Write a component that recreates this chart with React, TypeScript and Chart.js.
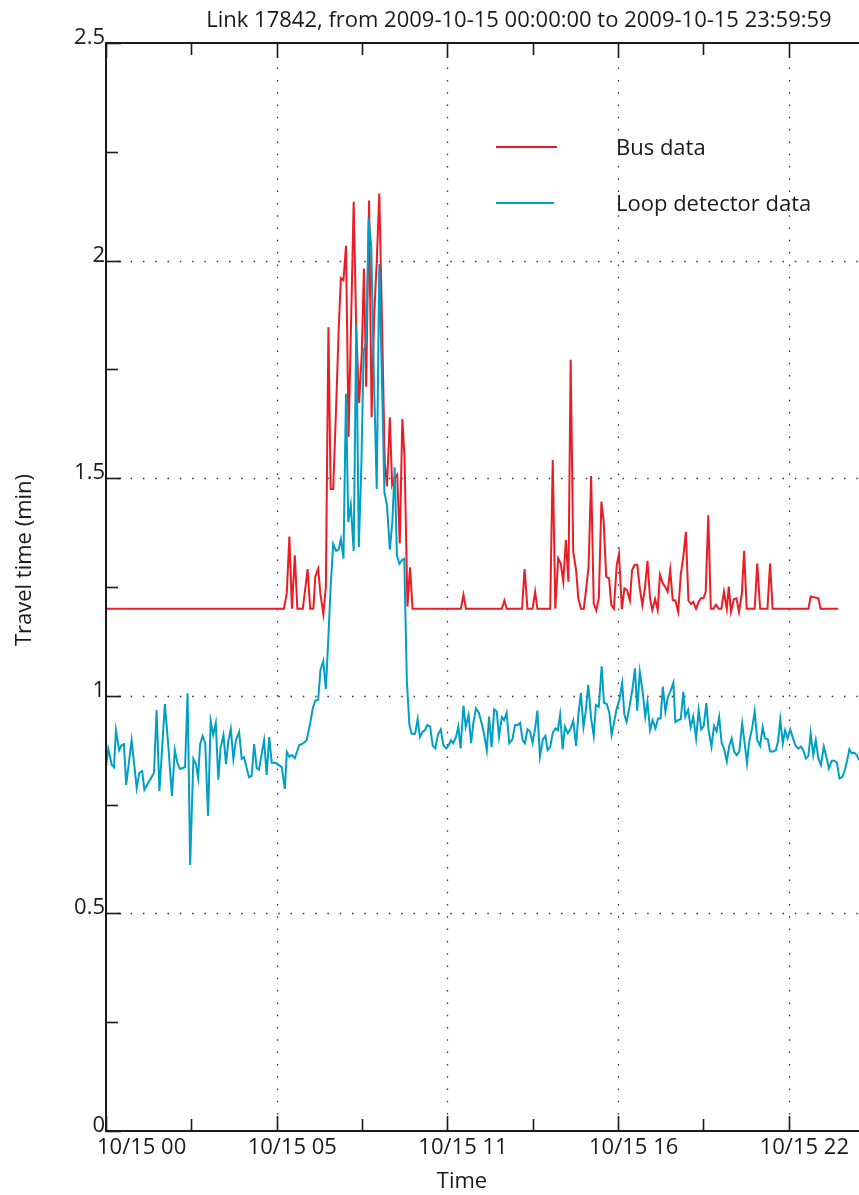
import React, { useEffect, useRef } from "react";
import { Chart, registerables } from "chart.js";

Chart.register(...registerables);

// ---- data ----
const chartTitle = "Link 17842, from 2009-10-15 00:00:00 to 2009-10-15 23:59:59";
const xAxisTitle = "Time";
const yAxisTitle = "Travel time (min)";
const seriesNames = ["Bus data", "Loop detector data"];

// x tick positions (hours since 10/15 00:00) and labels
const xMajorTickHours = [0, 16 / 3, 32 / 3, 16, 64 / 3];
const xMajorTickLabels = ["10/15 00", "10/15 05", "10/15 11", "10/15 16", "10/15 22"];
const xMinorTickHours = [8 / 3, 8, 40 / 3, 56 / 3];
const yTickValues = [0, 0.25, 0.5, 0.75, 1, 1.25, 1.5, 1.75, 2, 2.25, 2.5];
const yTickLabels = ["0", "", "0.5", "", "1", "", "1.5", "", "2", "", "2.5"];

const busHours = [
  0, 5.56, 5.65, 5.73, 5.81, 5.9, 5.98, 6.15, 6.3, 6.38, 6.48, 6.54, 6.63, 6.7, 6.79, 6.87,
  6.95, 7.02, 7.1, 7.19, 7.27, 7.34, 7.42, 7.5, 7.58, 7.74, 7.82, 7.91, 7.99, 8.06, 8.13,
  8.22, 8.3, 8.38, 8.46, 8.54, 8.63, 8.71, 8.78, 8.87, 8.94, 9.02, 9.1, 9.18, 9.26, 9.33,
  9.42, 9.5, 9.58, 11.09, 11.17, 11.25, 12.37, 12.45, 12.52, 13.0, 13.08, 13.17, 13.33,
  13.41, 13.48, 13.88, 13.96, 14.04, 14.13, 14.21, 14.29, 14.37, 14.45, 14.52, 14.6, 14.69,
  14.76, 14.84, 14.93, 15.0, 15.08, 15.16, 15.24, 15.32, 15.4, 15.48, 15.55, 15.63, 15.72,
  15.79, 15.87, 15.96, 16.03, 16.12, 16.2, 16.28, 16.37, 16.44, 16.52, 16.6, 16.68, 16.76,
  16.84, 16.92, 17.0, 17.07, 17.16, 17.24, 17.31, 17.4, 17.47, 17.55, 17.63, 17.71, 17.79,
  17.88, 17.96, 18.04, 18.12, 18.2, 18.28, 18.35, 18.44, 18.52, 18.59, 18.67, 18.74, 18.82,
  18.9, 18.98, 19.06, 19.15, 19.23, 19.31, 19.4, 19.46, 19.53, 19.62, 19.7, 19.78, 19.87,
  19.94, 20.02, 20.27, 20.35, 20.44, 20.67, 20.75, 20.83, 21.95, 22.02, 22.26, 22.33, 22.88,
];
const busMinutes = [
  1.2, 1.2, 1.237, 1.366, 1.2, 1.323, 1.2, 1.2, 1.291, 1.2, 1.2, 1.274, 1.292, 1.234, 1.188, 1.25,
  1.847, 1.475, 1.475, 1.66, 1.84, 1.96, 1.955, 2.034, 1.595, 2.135, 1.84, 1.673, 1.783, 1.982, 1.71,
  2.138, 1.64, 1.874, 1.997, 2.154, 1.84, 1.537, 1.481, 1.64, 1.484, 1.5, 1.508, 1.35, 1.636, 1.545,
  1.205, 1.295, 1.2, 1.2, 1.232, 1.2, 1.2, 1.219, 1.2, 1.2, 1.291, 1.2, 1.2,
  1.239, 1.2, 1.2, 1.542, 1.2, 1.316, 1.304, 1.262, 1.358, 1.262, 1.772, 1.331, 1.289,
  1.224, 1.2, 1.2, 1.243, 1.297, 1.505, 1.212, 1.196, 1.224, 1.446, 1.402, 1.274, 1.27,
  1.209, 1.2, 1.301, 1.326, 1.199, 1.247, 1.243, 1.219, 1.289, 1.301, 1.301, 1.247, 1.209,
  1.247, 1.31, 1.224, 1.197, 1.222, 1.197, 1.278, 1.258, 1.251, 1.239, 1.289, 1.22, 1.219,
  1.193, 1.278, 1.32, 1.377, 1.219, 1.211, 1.216, 1.2, 1.216, 1.224, 1.224, 1.239, 1.415,
  1.2, 1.2, 1.209, 1.2, 1.2, 1.239, 1.2, 1.251, 1.193, 1.222, 1.224, 1.193, 1.235,
  1.333, 1.2, 1.2, 1.304, 1.2, 1.2, 1.304, 1.2, 1.2, 1.228, 1.224, 1.2, 1.2,
];

const loopHours = [
  0, 0.07, 0.18, 0.25, 0.31, 0.41, 0.49, 0.56, 0.63, 0.8, 0.96, 1.04, 1.13, 1.2, 1.5, 1.58,
  1.67, 1.84, 1.95, 2.06, 2.15, 2.23, 2.31, 2.47, 2.55, 2.63, 2.73, 2.81, 2.88, 2.94, 3.02,
  3.1, 3.19, 3.27, 3.35, 3.43, 3.51, 3.58, 3.67, 3.75, 3.82, 3.9, 3.98, 4.06, 4.16, 4.24,
  4.31, 4.47, 4.55, 4.63, 4.71, 4.78, 4.94, 5.02, 5.1, 5.18, 5.3, 5.49, 5.59, 5.65, 5.73,
  5.81, 5.9, 6.04, 6.15, 6.27, 6.38, 6.46, 6.54, 6.63, 6.7, 6.79, 6.87, 6.95, 7.02, 7.1,
  7.19, 7.27, 7.34, 7.42, 7.5, 7.57, 7.65, 7.74, 7.82, 7.9, 7.98, 8.05, 8.13, 8.21, 8.29,
  8.37, 8.46, 8.54, 8.63, 8.7, 8.78, 8.87, 8.95, 9.02, 9.09, 9.17, 9.25, 9.32, 9.4, 9.48,
  9.55, 9.66, 9.74, 9.81, 9.9, 9.97, 10.04, 10.13, 10.21, 10.29, 10.37, 10.46, 10.54, 10.63,
  10.71, 10.78, 10.85, 10.94, 11.01, 11.08, 11.17, 11.24, 11.33, 11.41, 11.48, 11.56, 11.65,
  11.74, 11.82, 11.9, 11.97, 12.05, 12.13, 12.21, 12.28, 12.37, 12.44, 12.52, 12.6, 12.7,
  12.78, 12.87, 12.94, 13.02, 13.09, 13.17, 13.25, 13.33, 13.41, 13.48, 13.56, 13.65, 13.73,
  13.8, 13.88, 13.96, 14.04, 14.12, 14.19, 14.27, 14.34, 14.43, 14.51, 14.6, 14.69, 14.76,
  14.84, 14.92, 14.99, 15.07, 15.16, 15.24, 15.31, 15.4, 15.49, 15.56, 15.65, 15.73, 15.8,
  15.88, 15.96, 16.04, 16.13, 16.2, 16.27, 16.35, 16.45, 16.53, 16.6, 16.68, 16.77, 16.85,
  16.92, 17.0, 17.08, 17.17, 17.25, 17.33, 17.4, 17.48, 17.56, 17.65, 17.73, 17.79, 17.88,
  17.96, 18.04, 18.1, 18.19, 18.27, 18.35, 18.44, 18.52, 18.6, 18.68, 18.76, 18.83, 18.92,
  19.0, 19.08, 19.16, 19.24, 19.31, 19.4, 19.47, 19.55, 19.63, 19.71, 19.79, 19.88, 19.95,
  20.03, 20.1, 20.19, 20.27, 20.35, 20.44, 20.52, 20.59, 20.68, 20.75, 20.85, 20.93, 21.0,
  21.07, 21.15, 21.22, 21.3, 21.38, 21.47, 21.55, 21.63, 21.72, 21.79, 21.87, 21.95, 22.02,
  22.1, 22.18, 22.26, 22.34, 22.43, 22.51, 22.59, 22.68, 22.76, 22.84, 22.92, 23.01, 23.09,
  23.16, 23.23, 23.3, 23.38, 23.46, 23.53, 23.6,
];
const loopMinutes = [
  0.836, 0.878, 0.841, 0.836, 0.921, 0.875, 0.887, 0.889, 0.795, 0.898, 0.788, 0.823, 0.827, 0.784, 0.823, 0.967,
  0.781, 0.981, 0.882, 0.77, 0.875, 0.846, 0.832, 0.836, 1.006, 0.611, 0.855, 0.843, 0.811, 0.889, 0.908,
  0.891, 0.724, 0.942, 0.91, 0.937, 0.807, 0.88, 0.91, 0.843, 0.894, 0.924, 0.855, 0.898, 0.917, 0.855,
  0.859, 0.813, 0.816, 0.889, 0.834, 0.83, 0.898, 0.818, 0.905, 0.846, 0.846, 0.836, 0.786, 0.871, 0.86,
  0.864, 0.857, 0.887, 0.89, 0.898, 0.937, 0.971, 0.989, 0.991, 1.059, 1.08, 1.016, 1.135, 1.25, 1.349,
  1.333, 1.336, 1.36, 1.315, 1.694, 1.399, 1.438, 1.333, 1.85, 1.342, 1.529, 1.792, 1.815, 2.099, 2.029,
  1.738, 1.475, 1.992, 1.701, 1.467, 1.438, 1.336, 1.402, 1.525, 1.323, 1.303, 1.312, 1.315, 1.036, 0.934,
  0.913, 0.913, 0.947, 0.905, 0.918, 0.921, 0.933, 0.929, 0.885, 0.879, 0.91, 0.923, 0.887, 0.879,
  0.887, 0.898, 0.891, 0.906, 0.929, 0.879, 0.977, 0.929, 0.956, 0.891, 0.938, 0.971, 0.961,
  0.937, 0.91, 0.875, 0.952, 0.882, 0.969, 0.964, 0.906, 0.951, 0.944, 0.961, 0.891, 0.9,
  0.933, 0.933, 0.938, 0.898, 0.891, 0.923, 0.918, 0.892, 0.925, 0.966, 0.86, 0.9, 0.908,
  0.875, 0.882, 0.915, 0.925, 0.921, 0.956, 0.877, 0.929, 0.914, 0.923, 0.943, 0.885, 0.956,
  1.006, 0.928, 0.964, 1.025, 0.948, 0.908, 0.979, 0.975, 1.068, 0.984, 0.981, 0.96, 0.91,
  0.94, 0.971, 0.99, 1.029, 0.956, 0.94, 0.971, 1.015, 1.063, 0.966, 1.055, 1.009, 0.952,
  0.986, 0.921, 0.944, 0.925, 0.948, 0.948, 1.021, 0.964, 0.998, 1.013, 1.03, 0.94, 0.944,
  0.946, 1.009, 0.952, 0.967, 0.928, 0.952, 0.902, 0.967, 0.923, 0.931, 0.983, 0.921, 0.883,
  0.931, 0.918, 0.951, 0.891, 0.879, 0.849, 0.883, 0.902, 0.872, 0.864, 0.872, 0.937, 0.895,
  0.845, 0.895, 0.925, 0.964, 0.898, 0.885, 0.928, 0.902, 0.9, 0.872, 0.872, 0.875, 0.895,
  0.946, 0.891, 0.921, 0.902, 0.923, 0.902, 0.885, 0.879, 0.883, 0.875, 0.856, 0.862, 0.914,
  0.864, 0.898, 0.856, 0.841, 0.883, 0.86, 0.833, 0.851, 0.851, 0.846, 0.81, 0.814, 0.83,
  0.852, 0.877, 0.868, 0.869, 0.864, 0.852, 0.85,
];

const X_MIN = 0;
const X_MAX = 23.53;
const Y_MIN = 0;
const Y_MAX = 2.5;

const RED = "#ec1c24";
const BLUE = "#009fc6";
const INK = "#1a1a1a";
const FONT = '22px "Open Sans", "DejaVu Sans", sans-serif';

const matlabAxesPlugin = {
  id: "matlabAxes",
  beforeDatasetsDraw(chart: any) {
    const { ctx, chartArea } = chart;
    const xs = chart.scales.x;
    const ys = chart.scales.y;
    ctx.save();
    ctx.strokeStyle = "#333";
    ctx.lineWidth = 1.3;
    ctx.setLineDash([1.5, 10.8]);
    for (let i = 1; i < xMajorTickHours.length; i++) {
      const px = Math.round(xs.getPixelForValue(xMajorTickHours[i])) + 0.5;
      ctx.beginPath();
      ctx.moveTo(px, chartArea.top);
      ctx.lineTo(px, chartArea.bottom);
      ctx.stroke();
    }
    for (let i = 0; i < yTickValues.length; i++) {
      const v = yTickValues[i];
      if (yTickLabels[i] === "" || v === Y_MIN || v === Y_MAX) continue;
      const py = Math.round(ys.getPixelForValue(v)) + 0.5;
      ctx.beginPath();
      ctx.moveTo(chartArea.left, py);
      ctx.lineTo(chartArea.right, py);
      ctx.stroke();
    }
    ctx.restore();
  },
  afterDatasetsDraw(chart: any) {
    const { ctx, chartArea } = chart;
    const xs = chart.scales.x;
    const ys = chart.scales.y;
    ctx.save();
    ctx.setLineDash([]);
    ctx.strokeStyle = INK;
    ctx.lineWidth = 2;
    // axes box (left, top, bottom)
    ctx.beginPath();
    ctx.moveTo(chartArea.right, chartArea.top);
    ctx.lineTo(chartArea.left, chartArea.top);
    ctx.lineTo(chartArea.left, chartArea.bottom);
    ctx.lineTo(chartArea.right, chartArea.bottom);
    ctx.stroke();
    // x ticks (inward, top and bottom)
    ctx.lineWidth = 1.6;
    const drawXTick = (h: number, len: number) => {
      const px = Math.round(xs.getPixelForValue(h)) + 0.5;
      ctx.beginPath();
      ctx.moveTo(px, chartArea.bottom);
      ctx.lineTo(px, chartArea.bottom - len);
      ctx.moveTo(px, chartArea.top);
      ctx.lineTo(px, chartArea.top + len);
      ctx.stroke();
    };
    xMajorTickHours.forEach((h) => drawXTick(h, 15));
    xMinorTickHours.forEach((h) => drawXTick(h, 12));
    // y ticks (inward, left)
    yTickValues.forEach((v, i) => {
      const py = Math.round(ys.getPixelForValue(v)) + 0.5;
      const len = yTickLabels[i] === "" ? 12 : 15;
      ctx.beginPath();
      ctx.moveTo(chartArea.left, py);
      ctx.lineTo(chartArea.left + len, py);
      ctx.stroke();
    });
    // tick labels
    ctx.fillStyle = INK;
    ctx.font = FONT;
    ctx.textBaseline = "alphabetic";
    ctx.textAlign = "right";
    yTickValues.forEach((v, i) => {
      if (!yTickLabels[i]) return;
      const py = ys.getPixelForValue(v);
      ctx.fillText(yTickLabels[i], chartArea.left - 1, py + 1);
    });
    ctx.textAlign = "left";
    xMajorTickHours.forEach((h, i) => {
      const px = xs.getPixelForValue(h);
      const shift = i === 0 ? -9 : -29;
      ctx.fillText(xMajorTickLabels[i], px + shift, chartArea.bottom + 23);
    });
    // axis titles
    ctx.textAlign = "center";
    ctx.fillText(xAxisTitle, 462, chartArea.bottom + 57);
    ctx.save();
    ctx.translate(31, 560);
    ctx.rotate(-Math.PI / 2);
    ctx.fillText(yAxisTitle, 0, 0);
    ctx.restore();
    // title
    ctx.fillText(chartTitle, 519, 27);
    // legend
    const legendItems = [
      { name: seriesNames[0], color: RED, y: 147, x2: 557 },
      { name: seriesNames[1], color: BLUE, y: 203, x2: 554 },
    ];
    legendItems.forEach((it) => {
      ctx.strokeStyle = it.color;
      ctx.lineWidth = 2;
      ctx.beginPath();
      ctx.moveTo(496, it.y);
      ctx.lineTo(it.x2, it.y);
      ctx.stroke();
      ctx.fillStyle = INK;
      ctx.textAlign = "left";
      ctx.fillText(it.name, 616, it.y + 8);
    });
    ctx.restore();
  },
};

export default function App() {
  const canvasRef = useRef<HTMLCanvasElement | null>(null);

  useEffect(() => {
    const canvas = canvasRef.current;
    if (!canvas) return;
    const loopData = loopHours.map((h, i) => ({ x: h, y: loopMinutes[i] }));
    const busData = busHours.map((h, i) => ({ x: h, y: busMinutes[i] }));
    const chart = new Chart(canvas, {
      type: "line",
      data: {
        datasets: [
          {
            label: seriesNames[1],
            data: loopData,
            borderColor: BLUE,
            borderWidth: 2,
            pointRadius: 0,
            tension: 0,
            fill: false,
          },
          {
            label: seriesNames[0],
            data: busData,
            borderColor: RED,
            borderWidth: 2,
            pointRadius: 0,
            tension: 0,
            fill: false,
          },
        ],
      },
      options: {
        animation: false,
        responsive: false,
        devicePixelRatio: 1,
        events: [],
        layout: { padding: { left: 106, top: 43, right: 0, bottom: 64 } },
        scales: {
          x: { type: "linear", min: X_MIN, max: X_MAX, display: false },
          y: { type: "linear", min: Y_MIN, max: Y_MAX, display: false },
        },
        plugins: {
          legend: { display: false },
          title: { display: false },
          tooltip: { enabled: false },
        },
      },
      plugins: [matlabAxesPlugin],
    });
    return () => chart.destroy();
  }, []);

  return (
    <div style={{ position: "fixed", left: 0, top: 0, width: 859, height: 1195, background: "#fff" }}>
      <canvas ref={canvasRef} width={859} height={1195} style={{ display: "block" }} />
    </div>
  );
}
